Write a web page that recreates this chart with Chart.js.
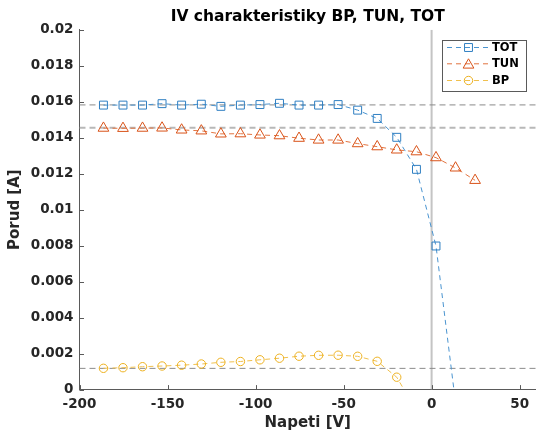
<!DOCTYPE html>
<html><head><meta charset="utf-8">
<script src="https://cdn.jsdelivr.net/npm/chart.js@4"></script>
<style>html,body{margin:0;padding:0;background:#fff}#wrap{width:536px;height:432px}canvas{display:block}</style>
</head><body><div id="wrap"><canvas id="c" width="536" height="432"></canvas></div>
<script>
// ---- data ----
const voltage = [-186.4,-175.3,-164.2,-153.1,-142.0,-130.8,-119.7,-108.6,-97.5,-86.4,-75.3,-64.2,-53.1,-42.0,-30.9,-19.8,-8.6,2.5,13.6,24.7];
const currentTOT = [0.01581,0.01581,0.01581,0.01589,0.01581,0.01586,0.01574,0.01581,0.01584,0.01591,0.01581,0.01581,0.01584,0.01553,0.01507,0.01402,0.01224,0.00798,-0.00073];
const currentTUN = [0.01453,0.01452,0.01453,0.01454,0.01443,0.01438,0.01421,0.01422,0.01415,0.01411,0.01397,0.01387,0.01387,0.01367,0.01350,0.01332,0.01322,0.01289,0.01232,0.01163];
const currentBP = [0.001183,0.001217,0.001272,0.001311,0.001356,0.001422,0.001517,0.001561,0.001656,0.001744,0.001856,0.001906,0.001911,0.00185,0.001572,0.000689,-0.00117];
const refLevels = [0.01582, 0.01455, 0.00118];
const refVoltage = 0;
const seriesNames = ['TOT','TUN','BP'];
const xTicks = [-200,-150,-100,-50,0,50];
const yTicks = [0,0.002,0.004,0.006,0.008,0.01,0.012,0.014,0.016,0.018,0.02];
const xRange = [-200, 59.3];
const yRange = [0, 0.02];
const titleText = 'IV charakteristiky BP, TUN, TOT';
const xTitle = 'Napeti [V]';
const yTitle = 'Porud [A]';

// ---- styles ----
const FONT = "'DejaVu Sans', sans-serif";
const AXIS = '#5a5a5a';
const styles = {
  TOT: {line:'#4a94d0', mark:'#2f7fc2', shape:'rect', r:5.6},
  TUN: {line:'#e2733f', mark:'#d95319', shape:'triangle', r:6.2},
  BP:  {line:'#f0c04e', mark:'#edb120', shape:'circle', r:4.2}
};
const refStyles = [
  {color:'#8a8a8a', width:1, dash:[6,4]},
  {color:'#b8b8b8', width:2, dash:[6,4]},
  {color:'#8a8a8a', width:1, dash:[6,4]}
];

function zip(xs, ys){ return ys.map((y,i)=>({x:xs[i], y:y})); }

const seriesData = {TOT: currentTOT, TUN: currentTUN, BP: currentBP};
const datasets = [];
seriesNames.forEach(name=>{
  const s = styles[name];
  datasets.push({
    label: name,
    data: zip(voltage, seriesData[name]),
    borderColor: s.line, borderWidth: 1, borderDash: [5,4],
    pointStyle: s.shape, pointRadius: s.r, pointHoverRadius: s.r,
    pointBorderColor: s.mark, pointBackgroundColor: 'rgba(0,0,0,0)', pointBorderWidth: 1,
    tension: 0, fill: false, order: 0
  });
});
refLevels.forEach((lv,i)=>{
  datasets.push({
    label: 'ref'+i,
    data: [{x:xRange[0], y:lv},{x:xRange[1], y:lv}],
    borderColor: refStyles[i].color, borderWidth: refStyles[i].width, borderDash: refStyles[i].dash,
    pointRadius: 0, fill:false, order: 2
  });
});
datasets.push({
  label: 'ref0V',
  data: [{x:refVoltage, y:yRange[0]},{x:refVoltage, y:yRange[1]}],
  borderColor: '#c4c4c4', borderWidth: 2, pointRadius: 0, fill:false, order: 3
});

function drawMarker(ctx, shape, x, y, r){
  ctx.beginPath();
  if (shape==='rect'){ const s=Math.SQRT1_2*r; ctx.rect(x-s,y-s,2*s,2*s); }
  else if (shape==='triangle'){ ctx.moveTo(x,y-r); ctx.lineTo(x+0.866*r,y+0.5*r); ctx.lineTo(x-0.866*r,y+0.5*r); ctx.closePath(); }
  else { ctx.arc(x,y,r,0,Math.PI*2); }
  ctx.stroke();
}

const decor = {
  id: 'decor',
  afterDraw(chart){
    const ctx = chart.ctx, a = chart.chartArea;
    const xs = chart.scales.x, ys = chart.scales.y;
    ctx.save();
    // inward ticks
    ctx.strokeStyle = AXIS; ctx.lineWidth = 1; ctx.setLineDash([]);
    xTicks.forEach(v=>{ const px = Math.round(xs.getPixelForValue(v))+0.5; ctx.beginPath(); ctx.moveTo(px,a.bottom); ctx.lineTo(px,a.bottom-4.5); ctx.stroke(); });
    yTicks.forEach(v=>{ const py = Math.round(ys.getPixelForValue(v))+0.5; ctx.beginPath(); ctx.moveTo(a.left,py); ctx.lineTo(a.left+4.5,py); ctx.stroke(); });
    // title
    ctx.fillStyle = '#000'; ctx.font = 'bold 15.5px ' + FONT; ctx.textAlign='center'; ctx.textBaseline='middle';
    ctx.fillText(titleText, (a.left+536)/2, 17);
    // legend
    const bx=442.5, by=40.5, bw=84, bh=51;
    ctx.fillStyle='#fff'; ctx.fillRect(bx,by,bw,bh);
    ctx.strokeStyle='#5a5a5a'; ctx.lineWidth=1; ctx.strokeRect(bx,by,bw,bh);
    const rows=[47.5,63.8,80.5];
    seriesNames.forEach((name,i)=>{
      const s=styles[name], y=rows[i];
      ctx.strokeStyle=s.line; ctx.lineWidth=1; ctx.setLineDash([5,4]);
      ctx.beginPath(); ctx.moveTo(447,y); ctx.lineTo(489,y); ctx.stroke();
      ctx.setLineDash([]); ctx.strokeStyle=s.mark;
      drawMarker(ctx, s.shape, 468.5, s.shape==='triangle'? y+1.2 : y, s.r);
      ctx.fillStyle='#000'; ctx.font='bold 11.5px '+FONT; ctx.textAlign='left'; ctx.textBaseline='middle';
      ctx.fillText(name, 492, y+0.5);
    });
    ctx.restore();
  }
};

new Chart(document.getElementById('c'), {
  type: 'line',
  data: { datasets },
  options: {
    responsive: false, animation: false, devicePixelRatio: 1,
    layout: { autoPadding: false, padding: { top: 29.7, right: 0, left: 0, bottom: 0 } },
    plugins: { legend: {display:false}, title:{display:false}, tooltip:{enabled:false} },
    scales: {
      x: {
        type: 'linear', min: xRange[0], max: xRange[1],
        afterBuildTicks: s => { s.ticks = xTicks.map(v=>({value:v})); },
        afterFit: s => { s.height = 42.4; s.paddingLeft = 0; s.paddingRight = 0; },
        grid: { display:false, drawTicks:false },
        border: { display:true, color: AXIS, width:1 },
        ticks: { color:'#262626', font:{family:FONT, size:13.5, weight:'bold'}, padding:7, maxRotation:0, autoSkip:false,
                 callback: v => String(v) },
        title: { display:true, text:xTitle, color:'#262626', font:{family:FONT, size:15, weight:'bold'}, padding:{top:0,bottom:0} }
      },
      y: {
        type: 'linear', min: yRange[0], max: yRange[1],
        afterBuildTicks: s => { s.ticks = yTicks.map(v=>({value:v})); },
        afterFit: s => { s.width = 79.5; s.paddingTop = 0; s.paddingBottom = 0; },
        grid: { display:false, drawTicks:false },
        border: { display:true, color: AXIS, width:1 },
        ticks: { color:'#262626', font:{family:FONT, size:13.5, weight:'bold'}, padding:6, autoSkip:false,
                 callback: v => String(+(+v).toFixed(3)) },
        title: { display:true, text:yTitle, color:'#262626', font:{family:FONT, size:15, weight:'bold'}, padding:{top:6,bottom:0} }
      }
    }
  },
  plugins: [decor]
});
</script>
</body></html>
